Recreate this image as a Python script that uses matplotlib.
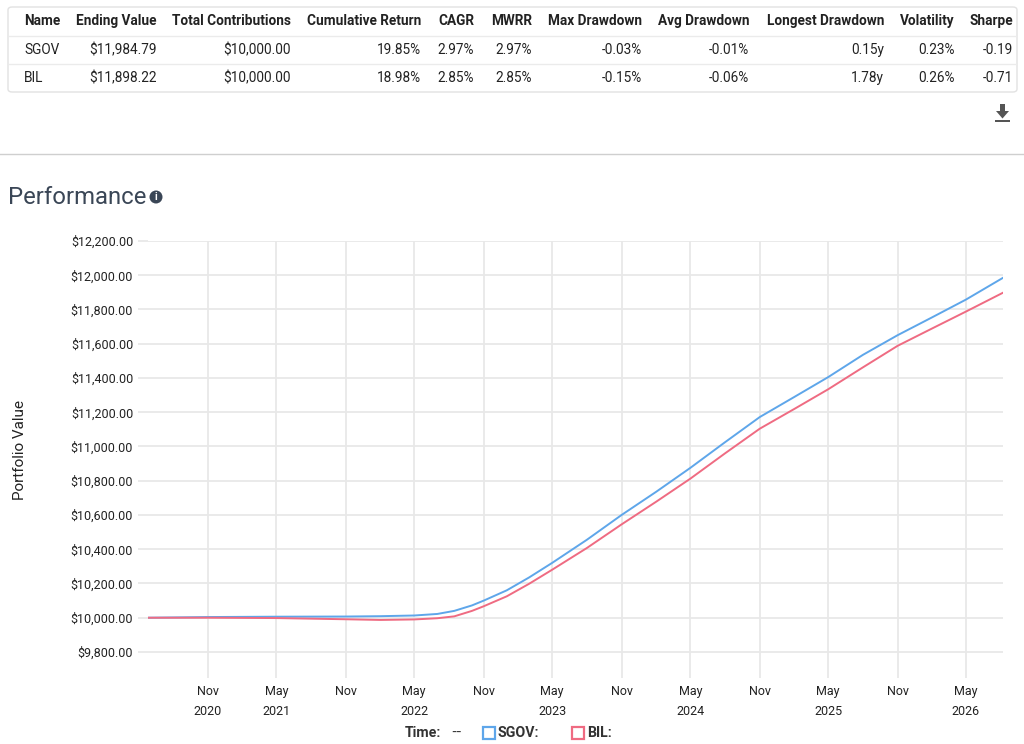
import matplotlib
matplotlib.use("Agg")
import matplotlib.pyplot as plt
import matplotlib.dates as mdates
from matplotlib.patches import FancyBboxPatch, Ellipse, Polygon, Rectangle
from matplotlib.lines import Line2D
from matplotlib.ticker import FuncFormatter, MultipleLocator
import pandas as pd

plt.rcParams['font.family'] = ['Roboto', 'DejaVu Sans']

# --- data ---
dates = pd.to_datetime([
    "2020-05-26", "2020-11-01", "2021-05-01", "2021-11-01", "2022-02-01",
    "2022-05-01", "2022-07-01", "2022-08-15", "2022-10-01", "2022-11-01",
    "2023-01-01", "2023-03-01", "2023-05-01", "2023-08-01", "2023-11-01",
    "2024-02-01", "2024-05-01", "2024-08-01", "2024-11-01", "2025-02-01",
    "2025-05-01", "2025-08-01", "2025-11-01", "2026-02-01", "2026-05-01",
    "2026-08-07",
])
sgov = [10000, 10004, 10006, 10007, 10009,
        10013, 10022, 10040, 10072, 10100,
        10160, 10235, 10320, 10455, 10600,
        10736, 10875, 11025, 11172, 11290,
        11405, 11535, 11650, 11755, 11858,
        11985]
bil = [10000, 10000, 9998, 9991, 9987,
       9990, 9997, 10008, 10040, 10067,
       10125, 10198, 10280, 10407, 10545,
       10678, 10812, 10960, 11104, 11220,
       11334, 11462, 11588, 11690, 11788,
       11898]

headers = ["Name", "Ending Value", "Total Contributions", "Cumulative Return", "CAGR",
           "MWRR", "Max Drawdown", "Avg Drawdown", "Longest Drawdown", "Volatility", "Sharpe"]
row_sgov = ["SGOV", "$11,984.79", "$10,000.00", "19.85%", "2.97%", "2.97%",
            "-0.03%", "-0.01%", "0.15y", "0.23%", "-0.19"]
row_bil = ["BIL", "$11,898.22", "$10,000.00", "18.98%", "2.85%", "2.85%",
           "-0.15%", "-0.06%", "1.78y", "0.26%", "-0.71"]

BLUE = "#5ea6ea"
RED = "#ef6b82"
TXT = "#222222"
GRID = "#e8e8e8"

W, H = 1024, 744
fig = plt.figure(figsize=(W / 100, H / 100), dpi=100)


def fx(px):
    return px / W


def fy(py):
    return 1 - py / H


# --- stats table ---
fig.patches.append(FancyBboxPatch((fx(8), fy(92)), fx(1017) - fx(8), fy(7) - fy(92),
                                  boxstyle="round,pad=0,rounding_size=0.004",
                                  transform=fig.transFigure, fc="white", ec="#e2e2e2", lw=1))
for yy in (36, 64):
    fig.add_artist(Line2D([fx(9), fx(1016)], [fy(yy), fy(yy)], color="#ebebeb", lw=1))

col_x = [24, 157, 291, 421, 474, 532, 642, 749, 884, 955, 1013]
for i, x in enumerate(col_x):
    ha = "left" if i == 0 else "right"
    fig.text(fx(x), fy(21), headers[i], ha=ha, va="center", fontsize=9.8,
             fontweight="bold", color=TXT)
    fig.text(fx(x), fy(50), row_sgov[i], ha=ha, va="center", fontsize=9.8, color=TXT)
    fig.text(fx(x), fy(78), row_bil[i], ha=ha, va="center", fontsize=9.8, color=TXT)

# download icon
fig.patches.append(Polygon([(fx(996), fy(111)), (fx(1009), fy(111)), (fx(1002.5), fy(118.5))],
                           closed=True, transform=fig.transFigure, fc="#555555", ec="none"))
fig.patches.append(Rectangle((fx(1000), fy(111)), fx(5), fy(104) - fy(111),
                             transform=fig.transFigure, fc="#555555", ec="none"))
fig.patches.append(Rectangle((fx(995), fy(122)), fx(15), fy(120) - fy(122),
                             transform=fig.transFigure, fc="#555555", ec="none"))

# separator
fig.add_artist(Line2D([0, 1], [fy(154), fy(154)], color="#cfcfcf", lw=1))

# title
fig.text(fx(8), fy(197), "Performance", ha="left", va="center", fontsize=17.2, color="#3a4656")
fig.patches.append(Ellipse((fx(156), fy(197)), 13 / W, 13 / H, transform=fig.transFigure,
                           fc="#3a4656", ec="none"))
fig.text(fx(156), fy(197.5), "i", ha="center", va="center", fontsize=7.5,
         fontweight="bold", color="white")

# --- chart ---
ax = fig.add_axes([fx(148), fy(678), fx(1003) - fx(148), fy(241) - fy(678)])
ax.plot(dates, sgov, color=BLUE, lw=1.4)
ax.plot(dates, bil, color=RED, lw=1.4)

ax.set_xlim(dates[0], dates[-1])
ax.set_ylim(9648, 12200)
ax.yaxis.set_major_locator(MultipleLocator(200))
ax.yaxis.set_major_formatter(FuncFormatter(
    lambda v, p: f"${v:,.2f}" if v >= 9800 else ""))
ax.set_axisbelow(True)
ax.grid(True, color=GRID, lw=1.3)

ax.xaxis.set_major_locator(mdates.MonthLocator(bymonth=[5, 11]))


def xfmt(v, pos):
    d = mdates.num2date(v).replace(tzinfo=None)
    lab = d.strftime("%b")
    # the year goes under the first tick shown in that year
    first_of_year = d.month == 5 or pd.Timestamp(d.year, 5, 1) < dates[0]
    if first_of_year:
        lab += "\n" + str(d.year)
    return lab


ax.xaxis.set_major_formatter(FuncFormatter(xfmt))
for s in ax.spines.values():
    s.set_visible(False)
ax.tick_params(axis="y", length=7.2, width=1.3, color=GRID, pad=3.5, labelsize=9, labelcolor=TXT)
ax.tick_params(axis="x", length=0, pad=5, labelsize=9, labelcolor=TXT)
for lab in ax.get_xticklabels():
    lab.set_linespacing(1.75)

fig.text(fx(20), fy(450), "Portfolio Value", rotation=90, ha="center", va="center",
         fontsize=11, color=TXT)

# --- legend row ---
fig.text(fx(405), fy(733), "Time:", ha="left", va="center", fontsize=10.2,
         fontweight="bold", color="#333333")
fig.text(fx(451), fy(733), "--", ha="left", va="center", fontsize=10.2, color="#333333",
         family="DejaVu Sans")
fig.patches.append(Rectangle((fx(483), fy(739)), 12 / W, 12 / H, transform=fig.transFigure,
                             fc="white", ec=BLUE, lw=1.6))
fig.text(fx(498), fy(733), "SGOV:", ha="left", va="center", fontsize=10.2,
         fontweight="bold", color="#333333")
fig.patches.append(Rectangle((fx(572), fy(739)), 12 / W, 12 / H, transform=fig.transFigure,
                             fc="white", ec=RED, lw=1.6))
fig.text(fx(587), fy(733), "BIL:", ha="left", va="center", fontsize=10.2,
         fontweight="bold", color="#333333")

fig.savefig("out.png", dpi=100)
